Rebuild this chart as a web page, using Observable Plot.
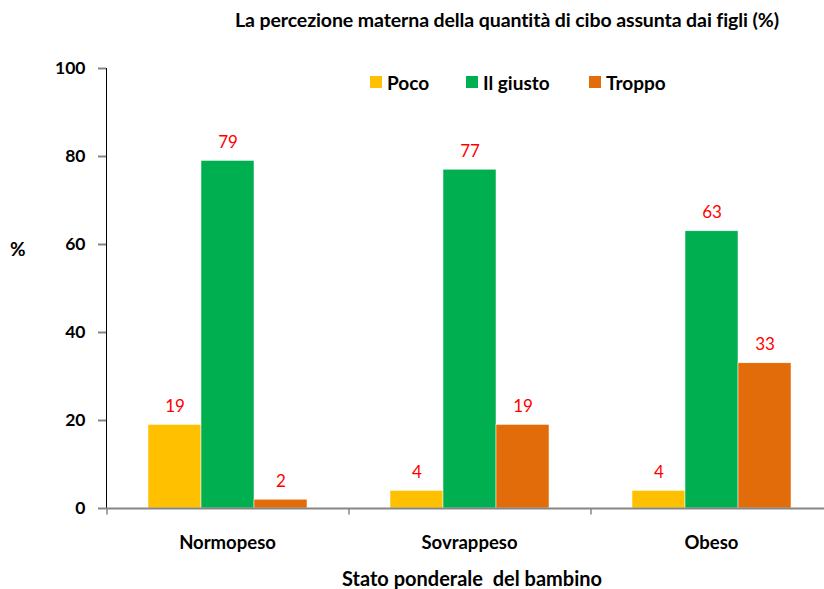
<!DOCTYPE html>
<html>
<head>
<meta charset="utf-8">
<script src="https://cdn.jsdelivr.net/npm/d3@7"></script>
<script src="https://cdn.jsdelivr.net/npm/@observablehq/plot@0.6"></script>
<style>
  body { margin: 0; background: #fff; font-family: Lato, "Open Sans", sans-serif; }
  #wrap { position: relative; width: 824px; height: 589px; overflow: hidden; }
  .ov { position: absolute; font-weight: bold; color: #000; white-space: nowrap; line-height: 1.2; }
  #title { left: 0; width: 1014px; top: 8px; text-align: center; font-size: 19.5px; letter-spacing: -0.1px; }
  #ylab { left: 10px; top: 238px; font-size: 19px; }
  #xtitle { left: 0; width: 944px; top: 566px; text-align: center; font-size: 20px; }
  .leg { position: absolute; top: 70px; height: 24px; font-size: 19px; font-weight: bold; display: flex; align-items: center; }
  .sw { width: 12px; height: 12px; margin-right: 5px; }
  svg g[aria-label^="y-axis"] line, svg g[aria-label^="y-axis"] path { stroke: #868686; stroke-width: 1.5; }
  svg g[aria-label^="y-axis"] path { stroke-width: 2; }
</style>
</head>
<body>
<div id="wrap">
  <div id="title" class="ov">La percezione materna della quantità di cibo assunta dai figli (%)</div>
  <div id="ylab" class="ov">%</div>
  <div id="xtitle" class="ov">Stato ponderale&nbsp; del bambino</div>
  <div id="legend"></div>
</div>
<script>
const groups = ["Normopeso", "Sovrappeso", "Obeso"];
const series = ["Poco", "Il giusto", "Troppo"];
const colors = ["#FFC000", "#00B050", "#E36C0A"];
const poco = [19, 4, 4];
const ilGiusto = [79, 77, 63];
const troppo = [2, 19, 33];
const yTicks = [0, 20, 40, 60, 80, 100];

const valuesBySeries = [poco, ilGiusto, troppo];
const rows = [];
groups.forEach((g, gi) => series.forEach((s, si) => rows.push({group: g, series: s, value: valuesBySeries[si][gi]})));

// legend
const legendPos = [370, 466, 589];
const legend = document.getElementById("legend");
series.forEach((s, i) => {
  const d = document.createElement("div");
  d.className = "leg";
  d.style.left = legendPos[i] + "px";
  d.innerHTML = `<span class="sw" style="background:${colors[i]}"></span><span>${s}</span>`;
  legend.appendChild(d);
});

const chart = Plot.plot({
  width: 824,
  height: 589,
  marginTop: 68,
  marginBottom: 81,
  marginLeft: 106,
  marginRight: -8,
  style: {fontFamily: "Lato, 'Open Sans', sans-serif", fontSize: "18.5px", fontWeight: "bold", color: "#000", background: "transparent", overflow: "visible"},
  fx: {domain: groups, padding: 0, label: null, axis: "bottom", tickSize: 0, tickPadding: 27},
  x: {domain: series, axis: null, paddingInner: 0, paddingOuter: 0.754},
  y: {domain: [0, 100], ticks: yTicks, tickSize: 8, tickPadding: 13, label: null, line: true},
  color: {domain: series, range: colors},
  marks: [
    Plot.barY(rows, {fx: "group", x: "series", y: "value", fill: "series", stroke: "#fff", strokeWidth: 0.5}),
    Plot.ruleY([0], {stroke: "#868686", strokeWidth: 2}),
    Plot.ruleX(rows, {filter: d => d.series === "Il giusto", fx: "group", x: "series", y1: 0, y2: -1.5, dx: -121, stroke: "#868686", strokeWidth: 1.5}),
    Plot.text(rows, {fx: "group", x: "series", y: "value", text: d => String(d.value), dy: -13, lineAnchor: "bottom", fill: "#FF0000", fontSize: 17, fontWeight: "normal"})
  ]
});
chart.querySelectorAll('g[aria-label^="y-axis"] text').forEach(t => t.style.fontSize = "17.5px");
document.getElementById("wrap").prepend(chart);
chart.style.position = "absolute";
chart.style.left = "0";
chart.style.top = "0";
</script>
</body>
</html>
